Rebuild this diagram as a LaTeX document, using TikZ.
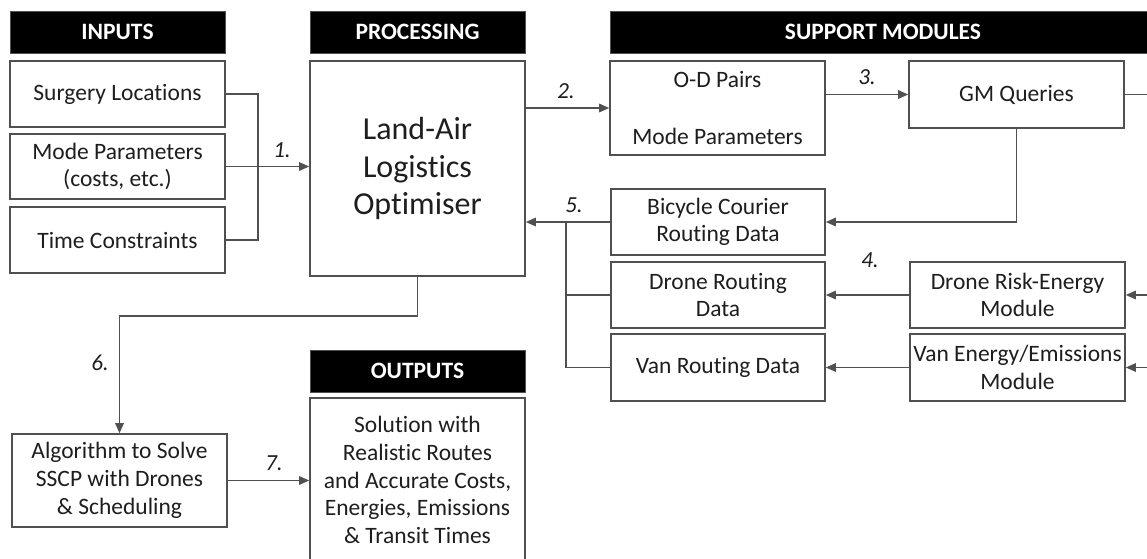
\documentclass[tikz,border=0pt]{standalone}
\usepackage{fontspec}
\setmainfont{Carlito}[Ligatures=NoCommon]
\usetikzlibrary{arrows.meta,positioning}
\definecolor{edge}{HTML}{505050}
\definecolor{txt}{HTML}{1E1E1E}
\tikzset{
  box/.style={draw=edge, line width=1.6pt, fill=white, text=txt, align=center, inner sep=0pt,
    minimum width=215pt, font=\fontsize{23.5}{27.7}\selectfont},
  hdr/.style={draw=edge, line width=1pt, fill=black, text=white, align=center, inner sep=0pt,
    minimum width=215pt, minimum height=42pt, font=\fontsize{23.5}{26}\selectfont\bfseries},
  conn/.style={draw=edge, line width=1.4pt},
  arr/.style={conn, -{Triangle[length=10pt,width=8.5pt]}},
  num/.style={text=txt, inner sep=0pt, font=\fontsize{23}{26}\selectfont\itshape}
}
\begin{document}
\begin{tikzpicture}[x=1pt,y=-1pt]
\useasboundingbox (0,0) rectangle (1147,558);
\clip (0,0) rectangle (1147,558);
\fill[white] (0,0) rectangle (1147,558);
% headers
\node[hdr] (hin) at (117.5,32) {INPUTS};
\node[hdr] (hproc) at (417.5,32) {PROCESSING};
\node[hdr, minimum width=590pt] (hsup) at (905,32) {\hspace*{-44pt}SUPPORT MODULES};
\node[hdr] (hout) at (417.5,371) {OUTPUTS};
% inputs
\node[box, minimum height=66pt] (sl) at (117.5,94) {Surgery Locations};
\node[box, minimum height=65pt] (mp) at (117.5,166.5) {Mode Parameters\\(costs, etc.)};
\node[box, minimum height=66pt] (tc) at (117.5,240) {Time Constraints};
% processing
\node[box, minimum height=215pt, font=\fontsize{32}{37.5}\selectfont] (opt) at (417.5,168.5) {Land-Air\\Logistics\\Optimiser};
% support
\node[box, minimum height=94pt] (od) at (717.5,108) {O-D Pairs\\[29pt]Mode Parameters};
\node[box, minimum height=67pt] (gm) at (1016.5,94.5) {GM Queries};
\node[box, minimum height=66pt, minimum width=214pt] (bc) at (718,222) {Bicycle Courier\\Routing Data};
\node[box, minimum height=66pt, minimum width=214pt] (dr) at (718,295) {Drone Routing\\Data};
\node[box, minimum height=67pt, minimum width=214pt] (vr) at (718,367.5) {Van Routing Data};
\node[box, minimum height=66pt] (dre) at (1017.5,295) {Drone Risk-Energy\\Module};
\node[box, minimum height=67pt] (ve) at (1017.5,367.5) {Van Energy/Emissions\\Module};
% algorithm and outputs
\node[box, minimum height=93pt] (alg) at (119.5,480.5) {Algorithm to Solve\\SSCP with Drones\\\& Scheduling};
\node[box, minimum height=164pt] (out) at (417.5,480) {Solution with\\Realistic Routes\\and Accurate Costs,\\Energies, Emissions\\\& Transit Times};
% coordinates
\coordinate (brS) at (258,94);
\coordinate (brT) at (258,240);
\coordinate (j5) at (566,222);
\coordinate (gmR) at (1160,94.5);
\coordinate (dreR) at (1160,295);
\coordinate (veR) at (1160,367.5);
\coordinate (bend6) at (417.5,316);
% connectors
\draw[conn] (sl.east) -- (brS) -- (brT) -- (tc.east);
\draw[arr] (mp.east) -- (mp.east -| opt.west);
\draw[arr] (od.west -| opt.east) -- (od.west);
\draw[arr] (od.east |- gm.west) -- (gm.west);
\draw[conn] (gm.east) -- (gmR);
\draw[arr] (gm.south) -- (gm.south |- bc.east) -- (bc.east);
\draw[arr] (bc.west) -- (bc.west -| opt.east);
\draw[conn] (j5) -- (j5 |- vr.west) -- (vr.west);
\draw[conn] (j5 |- dr.west) -- (dr.west);
\draw[arr] (dre.west) -- (dr.east);
\draw[arr] (ve.west) -- (vr.east);
\draw[arr] (dreR) -- (dre.east);
\draw[arr] (veR) -- (ve.east);
\draw[arr] (opt.south) -- (bend6) -| (alg.north);
\draw[arr] (alg.east) -- (alg.east -| out.west);
% labels
\node[num] (n1) at (282,150) {1.};
\node[num] (n2) at (566,91) {2.};
\node[num] (n3) at (867,77) {3.};
\node[num] (n4) at (870,260) {4.};
\node[num] (n5) at (574,205) {5.};
\node[num] (n6) at (100,363) {6.};
\node[num] (n7) at (274,463) {7.};
\end{tikzpicture}
\end{document}
